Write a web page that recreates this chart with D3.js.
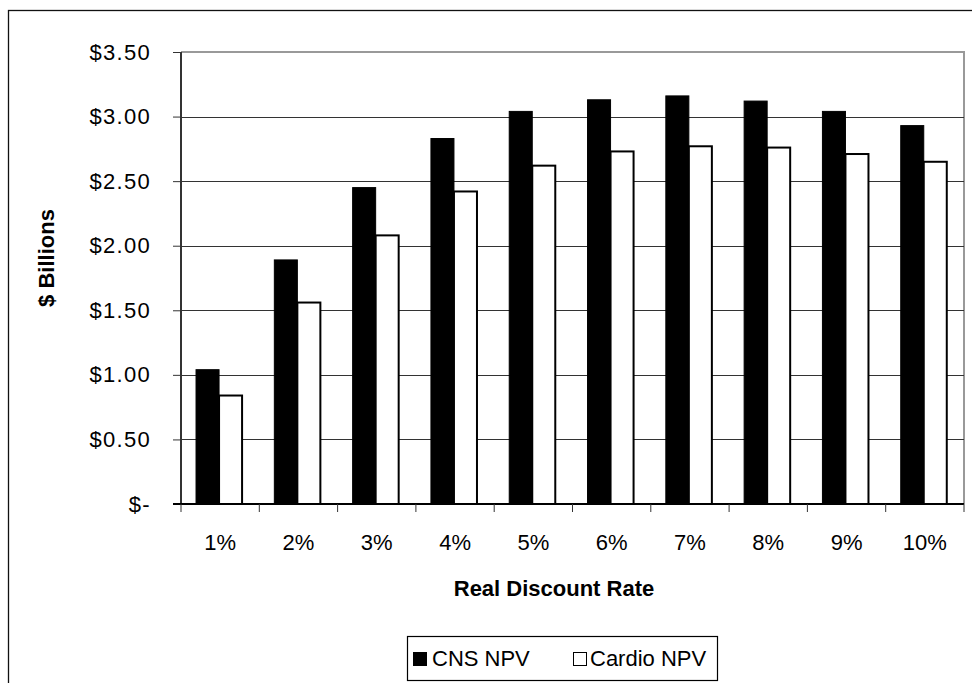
<!DOCTYPE html>
<html><head><meta charset="utf-8">
<script src="https://cdn.jsdelivr.net/npm/d3@7"></script>
<style>body{margin:0;background:#fff}svg{display:block}text{font-family:"Liberation Sans",Arial,sans-serif}</style>
</head><body>
<script>
const categories = ["1%","2%","3%","4%","5%","6%","7%","8%","9%","10%"];
const cnsNPV    = [1.04, 1.89, 2.45, 2.83, 3.04, 3.13, 3.16, 3.12, 3.04, 2.93];
const cardioNPV = [0.84, 1.56, 2.08, 2.42, 2.62, 2.73, 2.77, 2.76, 2.71, 2.65];
const seriesNames = ["CNS NPV","Cardio NPV"];
const yTicks = [0,0.5,1,1.5,2,2.5,3,3.5];
const yTickLabels = ["$-","$0.50","$1.00","$1.50","$2.00","$2.50","$3.00","$3.50"];

const W=972,H=683;
const svg=d3.select("body").append("svg").attr("width",W).attr("height",H);
// outer chart border
svg.append("rect").attr("x",8.5).attr("y",10.5).attr("width",W+20).attr("height",H+20)
  .attr("fill","#fff").attr("stroke","#111").attr("stroke-width",1.3);

const L=181,R=964,T=52,B=504;
const x0=d3.scaleBand().domain(categories).range([L,R]).padding(0);
const bw=x0.bandwidth();
const x1=d3.scaleBand().domain(seriesNames).range([bw*0.192,bw*0.78]).padding(0);
const y=d3.scaleLinear().domain([0,3.5]).range([B,T]);

// plot area border (gray top/right)
svg.append("path").attr("d",`M${L},${T}H${R}V${B}`).attr("fill","none").attr("stroke","#999").attr("stroke-width",2);
// gridlines
svg.append("g").selectAll("line").data(yTicks.filter(v=>v>0&&v<3.5)).join("line")
  .attr("x1",L).attr("x2",R).attr("y1",d=>Math.round(y(d))+0.5).attr("y2",d=>Math.round(y(d))+0.5)
  .attr("stroke","#333").attr("stroke-width",1);

// bars
const g=svg.append("g");
categories.forEach((c,i)=>{
  const vals=[cnsNPV[i],cardioNPV[i]];
  seriesNames.forEach((s,j)=>{
    const v=vals[j];
    g.append("rect").attr("x",x0(c)+x1(s)).attr("y",y(v)).attr("width",x1.bandwidth()).attr("height",B-y(v))
      .attr("fill",j===0?"#000":"#fff").attr("stroke","#000").attr("stroke-width",j===0?1:2);
  });
});

// y axis
const yAxis=d3.axisLeft(y).tickValues(yTicks).tickFormat((d,i)=>yTickLabels[i]).tickSize(8).tickPadding(22);
const ya=svg.append("g").attr("transform",`translate(${L},0)`).call(yAxis);
ya.select(".domain").attr("stroke","#333").attr("stroke-width",2).attr("d",`M0,${T}V${B}`);
ya.selectAll(".tick line").attr("stroke","#333").attr("stroke-width",1);
ya.selectAll("text").attr("font-size",22).attr("letter-spacing","1.3px").attr("fill","#000").attr("font-family","Liberation Sans, Arial, sans-serif");

// x axis
const xAxis=d3.axisBottom(x0).tickSize(0).tickPadding(30);
const xa=svg.append("g").attr("transform",`translate(0,${B})`).call(xAxis);
xa.select(".domain").attr("stroke","#000").attr("stroke-width",2).attr("d",`M${L-8},0H${R}`);
xa.selectAll("text").attr("font-size",22).attr("fill","#000").attr("font-family","Liberation Sans, Arial, sans-serif");
// category boundary ticks
xa.append("g").selectAll("line").data(categories.map(c=>x0(c)).concat([R])).join("line")
  .attr("x1",d=>d).attr("x2",d=>d).attr("y1",0).attr("y2",8).attr("stroke","#333").attr("stroke-width",1);

// axis titles
svg.append("text").attr("x",554).attr("y",596).attr("text-anchor","middle").attr("font-size",22).attr("font-weight","bold").text("Real Discount Rate");
svg.append("text").attr("transform","translate(54,258) rotate(-90)").attr("text-anchor","middle").attr("font-size",22).attr("font-weight","bold").text("$ Billions");

// legend
const lg=svg.append("g");
lg.append("rect").attr("x",407.5).attr("y",636.5).attr("width",310).attr("height",44).attr("fill","#fff").attr("stroke","#000").attr("stroke-width",1.2);
const legendItems=[{name:seriesNames[0],fill:"#000",x:413,tx:432},{name:seriesNames[1],fill:"#fff",x:573,tx:590}];
legendItems.forEach(it=>{
  lg.append("rect").attr("x",it.x+0.5).attr("y",652.5).attr("width",13).attr("height",13).attr("fill",it.fill).attr("stroke","#000").attr("stroke-width",1);
  lg.append("text").attr("x",it.tx).attr("y",666).attr("font-size",22).text(it.name);
});
</script>
</body></html>
